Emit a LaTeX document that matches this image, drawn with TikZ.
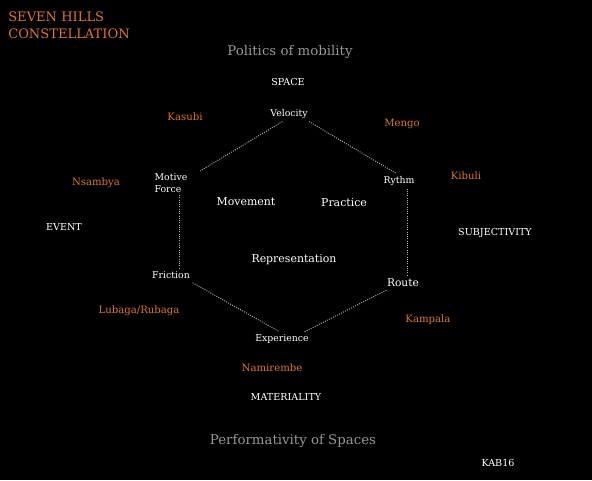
\documentclass[tikz,border=0pt]{standalone}
\usepackage{fontspec}
\setmainfont{DejaVu Serif}
\usepackage{xcolor}
\usetikzlibrary{positioning, calc}

\definecolor{hillorange}{RGB}{222,118,34}
\definecolor{titlegray}{RGB}{150,150,150}
\definecolor{linkgray}{RGB}{185,185,185}

\begin{document}
\begin{tikzpicture}[
    x=0.75pt, y=-0.75pt,
    hill/.style={text=hillorange, font=\fontsize{7.6}{9}\selectfont, inner sep=1pt},
    axis/.style={text=white, font=\fontsize{7.2}{8.5}\selectfont, inner sep=1pt},
    vertex/.style={text=white, font=\fontsize{7}{8.5}\selectfont, inner sep=2pt, align=left},
    field/.style={text=white, font=\fontsize{8.2}{10}\selectfont, inner sep=1pt},
    heading/.style={text=titlegray, font=\fontsize{10}{12}\selectfont, inner sep=1pt},
    link/.style={draw=linkgray, line width=0.7pt, densely dotted}
]

% Background
\fill[black] (0,0) rectangle (592,480);
\useasboundingbox (0,0) rectangle (592,480);

% Title
\node[text=hillorange, font=\fontsize{9.8}{12.2}\selectfont, align=left, anchor=north west, inner sep=0pt] (title) at (8,12) {SEVEN HILLS\\CONSTELLATION};

% Headings
\node[heading] (politics) at (290,52) {Politics of mobility};
\node[heading] (perform) at (293,441) {Performativity of Spaces};

% Axes
\node[axis] (space) at (288,82) {SPACE};
\node[axis] (event) at (64,227) {EVENT};
\node[axis] (subj) at (495,233) {SUBJECTIVITY};
\node[axis] (mater) at (286,397) {MATERIALITY};
\node[axis] (kab) at (498,463) {KAB16};

% Hills
\node[hill] (kasubi) at (185,117) {Kasubi};
\node[hill] (mengo) at (402,124) {Mengo};
\node[hill] (kibuli) at (466,176) {Kibuli};
\node[hill] (nsambya) at (96,183) {Nsambya};
\node[hill] (lubaga) at (139,311) {Lubaga/Rubaga};
\node[hill] (kampala) at (428,320) {Kampala};
\node[hill] (namirembe) at (272,368) {Namirembe};

% Hexagon vertices
\node[vertex] (vel) at (289,114) {Velocity};
\node[vertex] (mot) at (171,183) {Motive\\Force};
\node[vertex] (ryt) at (399,181) {Rythm};
\node[vertex] (fri) at (171,275) {Friction};
\node[vertex, font=\fontsize{8}{9.5}\selectfont] (rou) at (403,283) {Route};
\node[vertex] (exp) at (282,339) {Experience};

% Fields
\node[field] (move) at (246,202) {Movement};
\node[field] (prac) at (344,203) {Practice};
\node[field] (repr) at (294,260) {Representation};

% Edges
\draw[link] ([xshift=-5pt]vel.south) -- ([xshift=22pt]mot.north);
\draw[link] ([xshift=15pt]vel.south) -- ([xshift=-2pt]ryt.north);
\draw[link] ([xshift=6pt]mot.south) -- ([xshift=6pt]fri.north);
\draw[link] ([xshift=6pt]ryt.south) -- ([xshift=3pt]rou.north);
\draw[link] ([yshift=-1pt]fri.south east) -- ([xshift=-2pt]exp.north);
\draw[link] ([xshift=17pt]exp.north) -- ([xshift=-12pt]rou.south);

\end{tikzpicture}
\end{document}
